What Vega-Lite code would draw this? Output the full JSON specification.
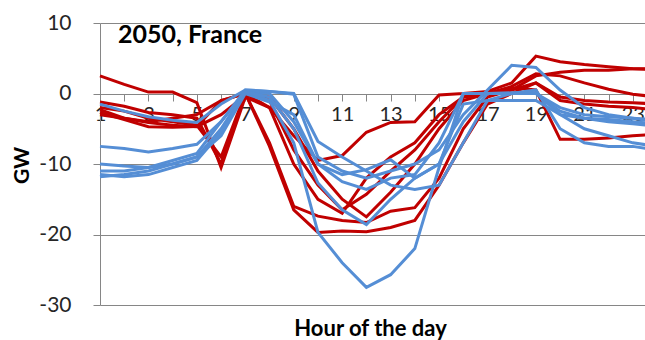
{
  "$schema": "https://vega.github.io/schema/vega-lite/v6.json",
  "autosize": "none",
  "width": 557,
  "height": 282,
  "padding": {"left": 100, "top": 23, "right": 0, "bottom": 35},
  "background": "white",
  "config": {"font": "Lato", "view": {"stroke": null}},
  "title": {"text": "2050, France", "anchor": "start", "frame": "group", "orient": "top", "offset": -33, "dx": 18, "dy": 15, "baseline": "middle", "fontSize": 25, "fontWeight": "bold", "color": "#000000"},
  "datasets": {
    "profiles": [
      {"series": "R1", "group": "red", "hour": 1, "gw": 2.5}, {"series": "R1", "group": "red", "hour": 2, "gw": 1.3}, {"series": "R1", "group": "red", "hour": 3, "gw": 0.2}, {"series": "R1", "group": "red", "hour": 4, "gw": 0.2}, {"series": "R1", "group": "red", "hour": 5, "gw": -1.3}, {"series": "R1", "group": "red", "hour": 6, "gw": -10.5}, {"series": "R1", "group": "red", "hour": 7, "gw": -0.5}, {"series": "R1", "group": "red", "hour": 8, "gw": -2}, {"series": "R1", "group": "red", "hour": 9, "gw": -6}, {"series": "R1", "group": "red", "hour": 10, "gw": -9.5}, {"series": "R1", "group": "red", "hour": 11, "gw": -8.8}, {"series": "R1", "group": "red", "hour": 12, "gw": -5.5}, {"series": "R1", "group": "red", "hour": 13, "gw": -4.1}, {"series": "R1", "group": "red", "hour": 14, "gw": -4}, {"series": "R1", "group": "red", "hour": 15, "gw": -0.2}, {"series": "R1", "group": "red", "hour": 16, "gw": 0}, {"series": "R1", "group": "red", "hour": 17, "gw": 0.3}, {"series": "R1", "group": "red", "hour": 18, "gw": 1.5}, {"series": "R1", "group": "red", "hour": 19, "gw": 5.3}, {"series": "R1", "group": "red", "hour": 20, "gw": 4.5}, {"series": "R1", "group": "red", "hour": 21, "gw": 4.1}, {"series": "R1", "group": "red", "hour": 22, "gw": 3.8}, {"series": "R1", "group": "red", "hour": 23, "gw": 3.5}, {"series": "R1", "group": "red", "hour": 24, "gw": 3.4},
      {"series": "R2", "group": "red", "hour": 1, "gw": -1.2}, {"series": "R2", "group": "red", "hour": 2, "gw": -1.8}, {"series": "R2", "group": "red", "hour": 3, "gw": -2.7}, {"series": "R2", "group": "red", "hour": 4, "gw": -3}, {"series": "R2", "group": "red", "hour": 5, "gw": -3.5}, {"series": "R2", "group": "red", "hour": 6, "gw": -10}, {"series": "R2", "group": "red", "hour": 7, "gw": 0}, {"series": "R2", "group": "red", "hour": 8, "gw": -7.5}, {"series": "R2", "group": "red", "hour": 9, "gw": -16.5}, {"series": "R2", "group": "red", "hour": 10, "gw": -19.7}, {"series": "R2", "group": "red", "hour": 11, "gw": -19.5}, {"series": "R2", "group": "red", "hour": 12, "gw": -19.6}, {"series": "R2", "group": "red", "hour": 13, "gw": -19}, {"series": "R2", "group": "red", "hour": 14, "gw": -18}, {"series": "R2", "group": "red", "hour": 15, "gw": -13}, {"series": "R2", "group": "red", "hour": 16, "gw": -7}, {"series": "R2", "group": "red", "hour": 17, "gw": -1.5}, {"series": "R2", "group": "red", "hour": 18, "gw": 0}, {"series": "R2", "group": "red", "hour": 19, "gw": 1.5}, {"series": "R2", "group": "red", "hour": 20, "gw": -1}, {"series": "R2", "group": "red", "hour": 21, "gw": -1.5}, {"series": "R2", "group": "red", "hour": 22, "gw": -1.8}, {"series": "R2", "group": "red", "hour": 23, "gw": -2}, {"series": "R2", "group": "red", "hour": 24, "gw": -2.3},
      {"series": "R3", "group": "red", "hour": 1, "gw": -2}, {"series": "R3", "group": "red", "hour": 2, "gw": -2.5}, {"series": "R3", "group": "red", "hour": 3, "gw": -3.5}, {"series": "R3", "group": "red", "hour": 4, "gw": -4}, {"series": "R3", "group": "red", "hour": 5, "gw": -4.5}, {"series": "R3", "group": "red", "hour": 6, "gw": -9}, {"series": "R3", "group": "red", "hour": 7, "gw": 0}, {"series": "R3", "group": "red", "hour": 8, "gw": -7}, {"series": "R3", "group": "red", "hour": 9, "gw": -16}, {"series": "R3", "group": "red", "hour": 10, "gw": -17.4}, {"series": "R3", "group": "red", "hour": 11, "gw": -18}, {"series": "R3", "group": "red", "hour": 12, "gw": -18.3}, {"series": "R3", "group": "red", "hour": 13, "gw": -16.7}, {"series": "R3", "group": "red", "hour": 14, "gw": -16.2}, {"series": "R3", "group": "red", "hour": 15, "gw": -12}, {"series": "R3", "group": "red", "hour": 16, "gw": -5}, {"series": "R3", "group": "red", "hour": 17, "gw": -0.5}, {"series": "R3", "group": "red", "hour": 18, "gw": 0.5}, {"series": "R3", "group": "red", "hour": 19, "gw": 2.5}, {"series": "R3", "group": "red", "hour": 20, "gw": 3}, {"series": "R3", "group": "red", "hour": 21, "gw": 3.3}, {"series": "R3", "group": "red", "hour": 22, "gw": 3.3}, {"series": "R3", "group": "red", "hour": 23, "gw": 3.5}, {"series": "R3", "group": "red", "hour": 24, "gw": 3.5},
      {"series": "R4", "group": "red", "hour": 1, "gw": -2.3}, {"series": "R4", "group": "red", "hour": 2, "gw": -3.5}, {"series": "R4", "group": "red", "hour": 3, "gw": -4.1}, {"series": "R4", "group": "red", "hour": 4, "gw": -4.5}, {"series": "R4", "group": "red", "hour": 5, "gw": -4.7}, {"series": "R4", "group": "red", "hour": 6, "gw": -3}, {"series": "R4", "group": "red", "hour": 7, "gw": -0.3}, {"series": "R4", "group": "red", "hour": 8, "gw": -0.5}, {"series": "R4", "group": "red", "hour": 9, "gw": -5}, {"series": "R4", "group": "red", "hour": 10, "gw": -11}, {"series": "R4", "group": "red", "hour": 11, "gw": -15}, {"series": "R4", "group": "red", "hour": 12, "gw": -17.5}, {"series": "R4", "group": "red", "hour": 13, "gw": -14}, {"series": "R4", "group": "red", "hour": 14, "gw": -10}, {"series": "R4", "group": "red", "hour": 15, "gw": -5}, {"series": "R4", "group": "red", "hour": 16, "gw": -1}, {"series": "R4", "group": "red", "hour": 17, "gw": 0}, {"series": "R4", "group": "red", "hour": 18, "gw": 0.8}, {"series": "R4", "group": "red", "hour": 19, "gw": 0.5}, {"series": "R4", "group": "red", "hour": 20, "gw": -6.5}, {"series": "R4", "group": "red", "hour": 21, "gw": -6.5}, {"series": "R4", "group": "red", "hour": 22, "gw": -6.3}, {"series": "R4", "group": "red", "hour": 23, "gw": -6}, {"series": "R4", "group": "red", "hour": 24, "gw": -5.8},
      {"series": "R5", "group": "red", "hour": 1, "gw": -2.7}, {"series": "R5", "group": "red", "hour": 2, "gw": -3.7}, {"series": "R5", "group": "red", "hour": 3, "gw": -4.7}, {"series": "R5", "group": "red", "hour": 4, "gw": -4.8}, {"series": "R5", "group": "red", "hour": 5, "gw": -4.7}, {"series": "R5", "group": "red", "hour": 6, "gw": -1}, {"series": "R5", "group": "red", "hour": 7, "gw": 0}, {"series": "R5", "group": "red", "hour": 8, "gw": -1}, {"series": "R5", "group": "red", "hour": 9, "gw": -8}, {"series": "R5", "group": "red", "hour": 10, "gw": -13}, {"series": "R5", "group": "red", "hour": 11, "gw": -16.5}, {"series": "R5", "group": "red", "hour": 12, "gw": -14.3}, {"series": "R5", "group": "red", "hour": 13, "gw": -11}, {"series": "R5", "group": "red", "hour": 14, "gw": -8}, {"series": "R5", "group": "red", "hour": 15, "gw": -4}, {"series": "R5", "group": "red", "hour": 16, "gw": -0.5}, {"series": "R5", "group": "red", "hour": 17, "gw": 0}, {"series": "R5", "group": "red", "hour": 18, "gw": 1}, {"series": "R5", "group": "red", "hour": 19, "gw": 2.8}, {"series": "R5", "group": "red", "hour": 20, "gw": 2.5}, {"series": "R5", "group": "red", "hour": 21, "gw": 1.5}, {"series": "R5", "group": "red", "hour": 22, "gw": 0.6}, {"series": "R5", "group": "red", "hour": 23, "gw": -0.1}, {"series": "R5", "group": "red", "hour": 24, "gw": -0.5},
      {"series": "R6", "group": "red", "hour": 1, "gw": -3}, {"series": "R6", "group": "red", "hour": 2, "gw": -3.5}, {"series": "R6", "group": "red", "hour": 3, "gw": -4}, {"series": "R6", "group": "red", "hour": 4, "gw": -3.5}, {"series": "R6", "group": "red", "hour": 5, "gw": -3}, {"series": "R6", "group": "red", "hour": 6, "gw": -1}, {"series": "R6", "group": "red", "hour": 7, "gw": 0}, {"series": "R6", "group": "red", "hour": 8, "gw": -2}, {"series": "R6", "group": "red", "hour": 9, "gw": -10}, {"series": "R6", "group": "red", "hour": 10, "gw": -15}, {"series": "R6", "group": "red", "hour": 11, "gw": -17}, {"series": "R6", "group": "red", "hour": 12, "gw": -12}, {"series": "R6", "group": "red", "hour": 13, "gw": -9}, {"series": "R6", "group": "red", "hour": 14, "gw": -7}, {"series": "R6", "group": "red", "hour": 15, "gw": -3}, {"series": "R6", "group": "red", "hour": 16, "gw": -0.5}, {"series": "R6", "group": "red", "hour": 17, "gw": 0}, {"series": "R6", "group": "red", "hour": 18, "gw": 0.5}, {"series": "R6", "group": "red", "hour": 19, "gw": 1.5}, {"series": "R6", "group": "red", "hour": 20, "gw": -0.5}, {"series": "R6", "group": "red", "hour": 21, "gw": -1}, {"series": "R6", "group": "red", "hour": 22, "gw": -1.2}, {"series": "R6", "group": "red", "hour": 23, "gw": -1.3}, {"series": "R6", "group": "red", "hour": 24, "gw": -1.5},
      {"series": "B1", "group": "blue", "hour": 1, "gw": -1.5}, {"series": "B1", "group": "blue", "hour": 2, "gw": -2.5}, {"series": "B1", "group": "blue", "hour": 3, "gw": -3.3}, {"series": "B1", "group": "blue", "hour": 4, "gw": -3.8}, {"series": "B1", "group": "blue", "hour": 5, "gw": -4.1}, {"series": "B1", "group": "blue", "hour": 6, "gw": -1.5}, {"series": "B1", "group": "blue", "hour": 7, "gw": 0.5}, {"series": "B1", "group": "blue", "hour": 8, "gw": 0.3}, {"series": "B1", "group": "blue", "hour": 9, "gw": -0.1}, {"series": "B1", "group": "blue", "hour": 10, "gw": -9}, {"series": "B1", "group": "blue", "hour": 11, "gw": -11}, {"series": "B1", "group": "blue", "hour": 12, "gw": -12}, {"series": "B1", "group": "blue", "hour": 13, "gw": -11}, {"series": "B1", "group": "blue", "hour": 14, "gw": -10}, {"series": "B1", "group": "blue", "hour": 15, "gw": -8}, {"series": "B1", "group": "blue", "hour": 16, "gw": -3}, {"series": "B1", "group": "blue", "hour": 17, "gw": 0.5}, {"series": "B1", "group": "blue", "hour": 18, "gw": 4}, {"series": "B1", "group": "blue", "hour": 19, "gw": 3.7}, {"series": "B1", "group": "blue", "hour": 20, "gw": 0.5}, {"series": "B1", "group": "blue", "hour": 21, "gw": -2}, {"series": "B1", "group": "blue", "hour": 22, "gw": -3}, {"series": "B1", "group": "blue", "hour": 23, "gw": -3.5}, {"series": "B1", "group": "blue", "hour": 24, "gw": -4},
      {"series": "B2", "group": "blue", "hour": 1, "gw": -7.5}, {"series": "B2", "group": "blue", "hour": 2, "gw": -7.8}, {"series": "B2", "group": "blue", "hour": 3, "gw": -8.3}, {"series": "B2", "group": "blue", "hour": 4, "gw": -7.8}, {"series": "B2", "group": "blue", "hour": 5, "gw": -7.2}, {"series": "B2", "group": "blue", "hour": 6, "gw": -4}, {"series": "B2", "group": "blue", "hour": 7, "gw": 0.3}, {"series": "B2", "group": "blue", "hour": 8, "gw": 0}, {"series": "B2", "group": "blue", "hour": 9, "gw": -4}, {"series": "B2", "group": "blue", "hour": 10, "gw": -10}, {"series": "B2", "group": "blue", "hour": 11, "gw": -11.5}, {"series": "B2", "group": "blue", "hour": 12, "gw": -10.8}, {"series": "B2", "group": "blue", "hour": 13, "gw": -9.4}, {"series": "B2", "group": "blue", "hour": 14, "gw": -12}, {"series": "B2", "group": "blue", "hour": 15, "gw": -10}, {"series": "B2", "group": "blue", "hour": 16, "gw": -1.5}, {"series": "B2", "group": "blue", "hour": 17, "gw": -1}, {"series": "B2", "group": "blue", "hour": 18, "gw": -1}, {"series": "B2", "group": "blue", "hour": 19, "gw": -1}, {"series": "B2", "group": "blue", "hour": 20, "gw": -3}, {"series": "B2", "group": "blue", "hour": 21, "gw": -3.5}, {"series": "B2", "group": "blue", "hour": 22, "gw": -3.7}, {"series": "B2", "group": "blue", "hour": 23, "gw": -4}, {"series": "B2", "group": "blue", "hour": 24, "gw": -4.3},
      {"series": "B3", "group": "blue", "hour": 1, "gw": -10}, {"series": "B3", "group": "blue", "hour": 2, "gw": -10.3}, {"series": "B3", "group": "blue", "hour": 3, "gw": -10.5}, {"series": "B3", "group": "blue", "hour": 4, "gw": -10}, {"series": "B3", "group": "blue", "hour": 5, "gw": -9}, {"series": "B3", "group": "blue", "hour": 6, "gw": -5}, {"series": "B3", "group": "blue", "hour": 7, "gw": 0.3}, {"series": "B3", "group": "blue", "hour": 8, "gw": -1}, {"series": "B3", "group": "blue", "hour": 9, "gw": -7}, {"series": "B3", "group": "blue", "hour": 10, "gw": -19.7}, {"series": "B3", "group": "blue", "hour": 11, "gw": -24}, {"series": "B3", "group": "blue", "hour": 12, "gw": -27.5}, {"series": "B3", "group": "blue", "hour": 13, "gw": -25.7}, {"series": "B3", "group": "blue", "hour": 14, "gw": -22}, {"series": "B3", "group": "blue", "hour": 15, "gw": -10.5}, {"series": "B3", "group": "blue", "hour": 16, "gw": 0}, {"series": "B3", "group": "blue", "hour": 17, "gw": 0}, {"series": "B3", "group": "blue", "hour": 18, "gw": 0.1}, {"series": "B3", "group": "blue", "hour": 19, "gw": 0.1}, {"series": "B3", "group": "blue", "hour": 20, "gw": -3}, {"series": "B3", "group": "blue", "hour": 21, "gw": -5}, {"series": "B3", "group": "blue", "hour": 22, "gw": -6}, {"series": "B3", "group": "blue", "hour": 23, "gw": -7}, {"series": "B3", "group": "blue", "hour": 24, "gw": -7.5},
      {"series": "B4", "group": "blue", "hour": 1, "gw": -11}, {"series": "B4", "group": "blue", "hour": 2, "gw": -11}, {"series": "B4", "group": "blue", "hour": 3, "gw": -10.5}, {"series": "B4", "group": "blue", "hour": 4, "gw": -9.5}, {"series": "B4", "group": "blue", "hour": 5, "gw": -8.5}, {"series": "B4", "group": "blue", "hour": 6, "gw": -4}, {"series": "B4", "group": "blue", "hour": 7, "gw": 0.5}, {"series": "B4", "group": "blue", "hour": 8, "gw": 0.3}, {"series": "B4", "group": "blue", "hour": 9, "gw": 0}, {"series": "B4", "group": "blue", "hour": 10, "gw": -6.8}, {"series": "B4", "group": "blue", "hour": 11, "gw": -9}, {"series": "B4", "group": "blue", "hour": 12, "gw": -11}, {"series": "B4", "group": "blue", "hour": 13, "gw": -13}, {"series": "B4", "group": "blue", "hour": 14, "gw": -13.6}, {"series": "B4", "group": "blue", "hour": 15, "gw": -13}, {"series": "B4", "group": "blue", "hour": 16, "gw": -7}, {"series": "B4", "group": "blue", "hour": 17, "gw": -1}, {"series": "B4", "group": "blue", "hour": 18, "gw": 0}, {"series": "B4", "group": "blue", "hour": 19, "gw": 0.5}, {"series": "B4", "group": "blue", "hour": 20, "gw": -5}, {"series": "B4", "group": "blue", "hour": 21, "gw": -7}, {"series": "B4", "group": "blue", "hour": 22, "gw": -7.5}, {"series": "B4", "group": "blue", "hour": 23, "gw": -7.5}, {"series": "B4", "group": "blue", "hour": 24, "gw": -8},
      {"series": "B5", "group": "blue", "hour": 1, "gw": -11.8}, {"series": "B5", "group": "blue", "hour": 2, "gw": -11.5}, {"series": "B5", "group": "blue", "hour": 3, "gw": -11}, {"series": "B5", "group": "blue", "hour": 4, "gw": -10}, {"series": "B5", "group": "blue", "hour": 5, "gw": -9}, {"series": "B5", "group": "blue", "hour": 6, "gw": -6}, {"series": "B5", "group": "blue", "hour": 7, "gw": 0}, {"series": "B5", "group": "blue", "hour": 8, "gw": -1.2}, {"series": "B5", "group": "blue", "hour": 9, "gw": -3}, {"series": "B5", "group": "blue", "hour": 10, "gw": -10}, {"series": "B5", "group": "blue", "hour": 11, "gw": -12.5}, {"series": "B5", "group": "blue", "hour": 12, "gw": -13.6}, {"series": "B5", "group": "blue", "hour": 13, "gw": -12}, {"series": "B5", "group": "blue", "hour": 14, "gw": -11.5}, {"series": "B5", "group": "blue", "hour": 15, "gw": -7}, {"series": "B5", "group": "blue", "hour": 16, "gw": 0}, {"series": "B5", "group": "blue", "hour": 17, "gw": 0}, {"series": "B5", "group": "blue", "hour": 18, "gw": 0}, {"series": "B5", "group": "blue", "hour": 19, "gw": 0}, {"series": "B5", "group": "blue", "hour": 20, "gw": -2.5}, {"series": "B5", "group": "blue", "hour": 21, "gw": -3.5}, {"series": "B5", "group": "blue", "hour": 22, "gw": -4}, {"series": "B5", "group": "blue", "hour": 23, "gw": -4.3}, {"series": "B5", "group": "blue", "hour": 24, "gw": -4.6},
      {"series": "B6", "group": "blue", "hour": 1, "gw": -11.5}, {"series": "B6", "group": "blue", "hour": 2, "gw": -11.8}, {"series": "B6", "group": "blue", "hour": 3, "gw": -11.5}, {"series": "B6", "group": "blue", "hour": 4, "gw": -10.5}, {"series": "B6", "group": "blue", "hour": 5, "gw": -9.5}, {"series": "B6", "group": "blue", "hour": 6, "gw": -5.5}, {"series": "B6", "group": "blue", "hour": 7, "gw": 0.2}, {"series": "B6", "group": "blue", "hour": 8, "gw": -0.5}, {"series": "B6", "group": "blue", "hour": 9, "gw": -5}, {"series": "B6", "group": "blue", "hour": 10, "gw": -12.7}, {"series": "B6", "group": "blue", "hour": 11, "gw": -16.5}, {"series": "B6", "group": "blue", "hour": 12, "gw": -18.6}, {"series": "B6", "group": "blue", "hour": 13, "gw": -15}, {"series": "B6", "group": "blue", "hour": 14, "gw": -12}, {"series": "B6", "group": "blue", "hour": 15, "gw": -10}, {"series": "B6", "group": "blue", "hour": 16, "gw": -4}, {"series": "B6", "group": "blue", "hour": 17, "gw": 0}, {"series": "B6", "group": "blue", "hour": 18, "gw": 0}, {"series": "B6", "group": "blue", "hour": 19, "gw": 0}, {"series": "B6", "group": "blue", "hour": 20, "gw": -2}, {"series": "B6", "group": "blue", "hour": 21, "gw": -3}, {"series": "B6", "group": "blue", "hour": 22, "gw": -3.3}, {"series": "B6", "group": "blue", "hour": 23, "gw": -3.5}, {"series": "B6", "group": "blue", "hour": 24, "gw": -3.7}
    ]
  },
  "data": {"name": "profiles"},
  "encoding": {
    "x": {
      "field": "hour", "type": "quantitative",
      "scale": {"domain": [1, 24], "nice": false, "zero": false},
      "axis": {
        "orient": "bottom", "offset": -211,
        "values": [1,2,3,4,5,6,7,8,9,10,11,12,13,14,15,16,17,18,19,20,21,22,23,24],
        "labelExpr": "datum.value % 2 == 1 ? datum.label : ''",
        "grid": false, "domainColor": "#868686", "tickColor": "#868686", "tickSize": 7,
        "labelFontSize": 20, "labelColor": "#262626", "labelPadding": 3, "labelFlush": false, "labelOverlap": false,
        "title": "Hour of the day", "titleFontSize": 22, "titleFontWeight": "bold", "titleColor": "#000000",
        "titleX": 270, "titleY": 234, "titleAlign": "center", "titleBaseline": "middle"
      }
    },
    "y": {
      "field": "gw", "type": "quantitative",
      "scale": {"domain": [-30, 10], "nice": false, "zero": false},
      "axis": {
        "values": [-30, -20, -10, 0, 10],
        "labelExpr": "'' + datum.value",
        "grid": true, "gridColor": "#868686", "domainColor": "#868686", "tickColor": "#868686", "tickSize": 7,
        "labelFontSize": 21, "labelColor": "#262626", "labelPadding": 22,
        "title": "GW", "titleFontSize": 21, "titleFontWeight": "bold", "titleColor": "#000000",
        "titleX": -78, "titleY": 142, "titleAngle": -90, "titleAlign": "center", "titleBaseline": "middle"
      }
    },
    "detail": {"field": "series", "type": "nominal"}
  },
  "layer": [
    {"transform": [{"filter": "datum.group == 'red'"}], "mark": {"type": "line", "color": "#C00000", "strokeWidth": 3}},
    {"transform": [{"filter": "datum.group == 'blue'"}], "mark": {"type": "line", "color": "#558ED5", "strokeWidth": 3}}
  ]
}
